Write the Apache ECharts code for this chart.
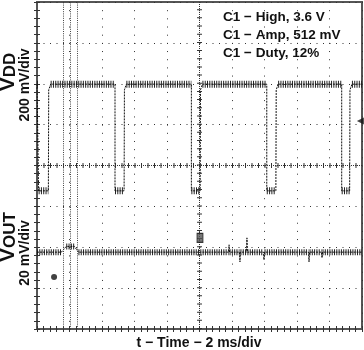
<!DOCTYPE html>
<html><head><meta charset="utf-8">
<script src="https://cdn.jsdelivr.net/npm/echarts@6/dist/echarts.min.js"></script>
<style>html,body{margin:0;padding:0;background:#fff}#c{width:364px;height:350px}</style>
</head><body><div id="c"></div>
<script>
// time axis: 0..20 ms (2 ms/div, 10 div); vertical axis: 0..8 div
const timeTicks = [0, 2, 4, 6, 8, 10, 12, 14, 16, 18, 20];
const divTicks = [0, 1, 2, 3, 4, 5, 6, 7, 8];
// C1 (VDD) trace, position in divisions
const vddTime  = [0, 0.1, 0.1, 0.7, 0.72, 0.84, 4.8, 4.8, 5.36, 5.38, 5.5, 9.5, 9.5, 10.04, 10.06, 10.18, 14.14, 14.14, 14.7, 14.72, 14.84, 18.75, 18.75, 19.24, 19.26, 19.38, 20];
const vddLevel = [5.99, 5.99, 3.38, 3.38, 5.85, 5.99, 5.99, 3.38, 3.38, 5.85, 5.99, 5.99, 3.38, 3.38, 5.85, 5.99, 5.99, 3.38, 3.38, 5.85, 5.99, 5.99, 3.38, 3.38, 5.85, 5.99, 5.99];
// VOUT trace
const voutTime  = [0, 1.5, 1.8, 2.3, 2.55, 11.79, 11.82, 11.85, 12.46, 12.49, 12.52, 12.89, 12.92, 12.95, 13.94, 13.97, 14.0, 16.71, 16.74, 16.77, 17.51, 17.54, 17.57, 20];
const voutLevel = [1.88, 1.88, 2.02, 2.02, 1.88, 1.88, 2.06, 1.88, 1.88, 1.64, 1.88, 1.88, 2.23, 1.88, 1.88, 1.69, 1.88, 1.88, 1.64, 1.88, 1.88, 1.74, 1.88, 1.88];
const cursorTimes = [1.62, 2.03, 2.48];
const centerTime = 10, centerDiv = 4;
const measurements = ['C1 − High, 3.6 V', 'C1 − Amp, 512 mV', 'C1 − Duty, 12%'];
const triggerBox = [10.03, 2.23];
const groundMark = [1.05, 1.27];
const levelMark = [19.9, 5.09];

function pairs(t, v) { return t.map((x, i) => [x, v[i]]); }
function flatSegments(t, v) {
  const out = [];
  for (let i = 0; i < t.length - 1; i++) {
    if (v[i] === v[i + 1] && t[i + 1] > t[i]) { out.push([t[i], v[i]], [t[i + 1], v[i + 1]], [null, null]); }
  }
  return out;
}

const chart = echarts.init(document.getElementById('c'), null, {renderer: 'canvas'});
const FONT = '"Liberation Sans", Arial, sans-serif';
const axisCommon = {
  type: 'value', axisLabel: {show: false}, axisLine: {show: false},
  axisTick: {show: true, inside: true, length: 3, lineStyle: {color: '#333'}},
  minorTick: {show: true, splitNumber: 5, length: 3, lineStyle: {color: '#333'}}
};
chart.setOption({
  animation: false,
  backgroundColor: '#fff',
  grid: {left: 37, right: 2, top: 2, bottom: 21, show: true, borderColor: '#555', borderWidth: 2},
  xAxis: [
    Object.assign({}, axisCommon, {position: 'bottom', min: timeTicks[0], max: timeTicks[timeTicks.length - 1], interval: 2,
      splitLine: {show: true, lineStyle: {color: '#333', width: 1, type: [1, 7.175]}}}),
    Object.assign({}, axisCommon, {position: 'top', min: timeTicks[0], max: timeTicks[timeTicks.length - 1], interval: 2, splitLine: {show: false}})
  ],
  yAxis: [
    Object.assign({}, axisCommon, {position: 'left', min: divTicks[0], max: divTicks[divTicks.length - 1], interval: 1,
      splitLine: {show: true, lineStyle: {color: '#333', width: 1, type: [1, 5.5]}}}),
    Object.assign({}, axisCommon, {position: 'right', min: divTicks[0], max: divTicks[divTicks.length - 1], interval: 1, splitLine: {show: false}})
  ],
  series: [
    {type: 'line', silent: true, data: [], markLine: {silent: true, symbol: 'none', label: {show: false},
      data: [
        {xAxis: centerTime, lineStyle: {color: '#333', width: 1, type: [1, 1]}},
        {yAxis: centerDiv, lineStyle: {color: '#333', width: 1, type: [1, 1]}},
        {xAxis: centerTime, lineStyle: {color: '#333', width: 5, type: [1, 7.175]}},
        {yAxis: centerDiv, lineStyle: {color: '#333', width: 5, type: [1, 5.5]}}
      ].concat(cursorTimes.map(t => ({xAxis: t, lineStyle: {color: '#444', width: 1, type: [1, 1.2]}})))}},
    {type: 'line', name: 'vdd-band', data: flatSegments(vddTime, vddLevel), showSymbol: false, connectNulls: false,
      lineStyle: {color: '#222', width: 7, type: [1, 1.3]}, z: 3},
    {type: 'line', name: 'vdd', data: pairs(vddTime, vddLevel), showSymbol: false,
      lineStyle: {color: '#111', width: 1, type: [2, 1]}, z: 4},
    {type: 'line', name: 'vout-band', data: flatSegments(voutTime, voutLevel), showSymbol: false, connectNulls: false,
      lineStyle: {color: '#222', width: 6, type: [1, 1.3]}, z: 3},
    {type: 'line', name: 'vout', data: pairs(voutTime, voutLevel), showSymbol: false,
      lineStyle: {color: '#111', width: 1, type: [2, 1]}, z: 4},
    {type: 'scatter', data: [triggerBox], symbol: 'rect', symbolSize: [6, 9],
      itemStyle: {color: '#555', borderColor: '#111', borderWidth: 1}, z: 5},
    {type: 'scatter', data: [groundMark], symbol: 'circle', symbolSize: 6, itemStyle: {color: '#111'}, z: 5},
    {type: 'scatter', data: [levelMark], symbol: 'triangle', symbolRotate: 90, symbolSize: 7, itemStyle: {color: '#111'}, z: 5}
  ],
  graphic: [
    {type: 'text', x: 223, y: 8, style: {text: measurements.join('\n'), font: 'bold 13.5px ' + FONT, lineHeight: 18, fill: '#111'}, z: 10},
    {type: 'text', x: 199, y: 343, style: {text: 't − Time − 2 ms/div', font: 'bold 14px ' + FONT, textAlign: 'center', textVerticalAlign: 'middle', fill: '#111'}},
    {type: 'text', x: 10, y: 72, rotation: Math.PI / 2, style: {text: '{v|V}{s|DD}', textAlign: 'center', textVerticalAlign: 'middle', fill: '#111',
      rich: {v: {fontSize: 21, fontWeight: 'bold', fontFamily: FONT, padding: [0, 0, 3, 0]}, s: {fontSize: 17, fontWeight: 'bold', fontFamily: FONT}}}},
    {type: 'text', x: 25, y: 85, rotation: Math.PI / 2, style: {text: '200 mV/div', font: 'bold 14px ' + FONT, textAlign: 'center', textVerticalAlign: 'middle', fill: '#111'}},
    {type: 'text', x: 10, y: 237, rotation: Math.PI / 2, style: {text: '{v|V}{s|OUT}', textAlign: 'center', textVerticalAlign: 'middle', fill: '#111',
      rich: {v: {fontSize: 21, fontWeight: 'bold', fontFamily: FONT, padding: [0, 0, 3, 0]}, s: {fontSize: 17, fontWeight: 'bold', fontFamily: FONT}}}},
    {type: 'text', x: 25, y: 253, rotation: Math.PI / 2, style: {text: '20 mV/div', font: 'bold 14px ' + FONT, textAlign: 'center', textVerticalAlign: 'middle', fill: '#111'}}
  ]
});
</script></body></html>
